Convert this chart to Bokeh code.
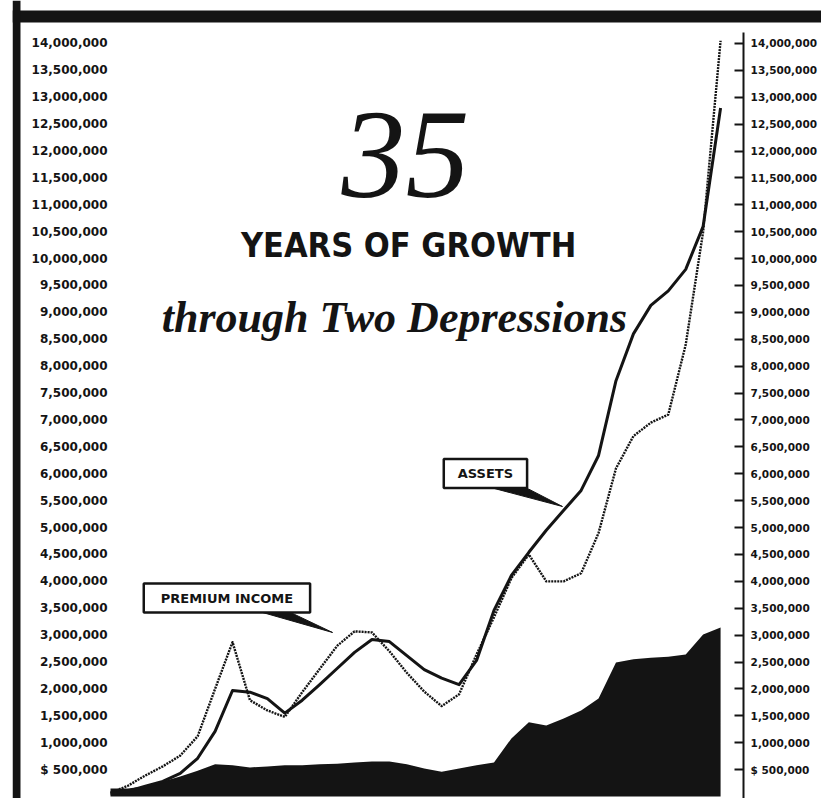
from bokeh.plotting import figure
from bokeh.models import LinearAxis, FixedTicker, Span, Label, Range1d
from bokeh.embed import file_html
from bokeh.resources import INLINE

# ---------------- data ----------------
YEARS = list(range(1906, 1942))

ASSETS = [0.05, 0.10, 0.19, 0.28, 0.43, 0.71, 1.21, 1.97, 1.94, 1.82, 1.55, 1.79,
          2.08, 2.38, 2.68, 2.92, 2.88, 2.62, 2.36, 2.20, 2.08, 2.53, 3.46, 4.11,
          4.54, 4.95, 5.32, 5.69, 6.34, 7.73, 8.60, 9.13, 9.40, 9.80, 10.60, 12.80]

PREMIUM_INCOME = [0.07, 0.20, 0.39, 0.56, 0.76, 1.12, 2.00, 2.87, 1.79, 1.60, 1.48, 1.94,
                  2.37, 2.80, 3.07, 3.05, 2.70, 2.30, 1.95, 1.68, 1.90, 2.64, 3.33, 4.06,
                  4.50, 4.00, 4.00, 4.15, 4.90, 6.10, 6.70, 6.95, 7.10, 8.40, 10.50, 14.05]

BLACK_AREA = [0.15, 0.15, 0.19, 0.28, 0.37, 0.48, 0.60, 0.58, 0.54, 0.56, 0.58, 0.58,
              0.60, 0.61, 0.63, 0.65, 0.65, 0.60, 0.52, 0.46, 0.52, 0.58, 0.63, 1.08,
              1.38, 1.32, 1.45, 1.60, 1.82, 2.49, 2.55, 2.58, 2.60, 2.64, 3.01, 3.14]

TICK_VALUES = [500000, 1000000, 1500000, 2000000, 2500000, 3000000, 3500000,
               4000000, 4500000, 5000000, 5500000, 6000000, 6500000, 7000000,
               7500000, 8000000, 8500000, 9000000, 9500000, 10000000, 10500000,
               11000000, 11500000, 12000000, 12500000, 13000000, 13500000, 14000000]
TICK_LABELS = ["$ 500,000", "1,000,000", "1,500,000", "2,000,000", "2,500,000",
               "3,000,000", "3,500,000", "4,000,000", "4,500,000", "5,000,000",
               "5,500,000", "6,000,000", "6,500,000", "7,000,000", "7,500,000",
               "8,000,000", "8,500,000", "9,000,000", "9,500,000", "10,000,000",
               "10,500,000", "11,000,000", "11,500,000", "12,000,000", "12,500,000",
               "13,000,000", "13,500,000", "14,000,000"]

MILLION = 1_000_000
assets = [v * MILLION for v in ASSETS]
premium = [v * MILLION for v in PREMIUM_INCOME]
area = [v * MILLION for v in BLACK_AREA]

INK = "#141414"

p = figure(width=821, height=798, output_backend="svg", toolbar_location=None,
           x_range=Range1d(1900.378, 1946.79), y_range=Range1d(-37180, 14798000),
           x_axis_location=None, y_axis_location=None,
           min_border_left=12, min_border_right=0, min_border_top=0, min_border_bottom=0)
p.outline_line_color = None
p.grid.visible = False
p.background_fill_color = "white"
p.border_fill_color = "white"

# black area
p.varea(x=YEARS, y1=0, y2=area, fill_color=INK)

# lines
p.line(YEARS, premium, line_width=2.4, line_color=INK, line_dash="2 1", line_join="round")
p.line(YEARS, assets, line_width=3, line_color=INK, line_join="round")

overrides = {v: l for v, l in zip(TICK_VALUES, TICK_LABELS)}

left = LinearAxis(fixed_location=1906, ticker=FixedTicker(ticks=TICK_VALUES),
                  major_label_overrides=overrides,
                  axis_line_color=None, major_tick_line_color=None,
                  minor_tick_line_color=None, major_tick_in=0, major_tick_out=0,
                  major_label_standoff=3,
                  major_label_text_font="DejaVu Sans",
                  major_label_text_font_style="bold",
                  major_label_text_font_size="12px",
                  major_label_text_color=INK)
p.add_layout(left, "left")

right = LinearAxis(fixed_location=1942.32, ticker=FixedTicker(ticks=TICK_VALUES),
                   major_label_overrides=overrides,
                   bounds=(-37180, 14200000),
                   axis_line_color=INK, axis_line_width=2,
                   major_tick_line_color=INK, major_tick_line_width=2,
                   major_tick_in=9, major_tick_out=0,
                   minor_tick_line_color=None,
                   major_label_standoff=7,
                   major_label_text_font="DejaVu Sans",
                   major_label_text_font_style="bold",
                   major_label_text_font_size="10.5px",
                   major_label_text_color=INK)
p.add_layout(right, "right")

# thick frame borders (top and left)
p.add_layout(Span(location=14501000, dimension="width", line_color=INK, line_width=12))
p.add_layout(Span(location=1900.607, dimension="height", line_color=INK, line_width=8))

# titles
p.add_layout(Label(x=1922.92, y=11917000, text="35", text_align="center",
                   text_baseline="middle", text_font="Liberation Serif",
                   text_font_style="italic", text_font_size="128px", text_color=INK))
p.add_layout(Label(x=1923.10, y=10244000, text="YEARS OF GROWTH", text_align="center",
                   text_baseline="middle",
                   text_font="Noto Sans ExtraCondensed, Noto Sans Condensed, DejaVu Sans Condensed",
                   text_font_style="bold", text_font_size="34px", text_color=INK))
p.add_layout(Label(x=1922.29, y=8896000, text="through Two Depressions", text_align="center",
                   text_baseline="middle", text_font="Liberation Serif",
                   text_font_style="bold italic", text_font_size="44px", text_color=INK))

# boxed series labels
p.add_layout(Label(x=1927.51, y=6005000, text="ASSETS", text_align="center",
                   text_baseline="middle", text_font="DejaVu Sans",
                   text_font_style="bold", text_font_size="13px", text_color=INK,
                   background_fill_color="white", border_line_color=INK,
                   border_line_width=2.5, padding=(14, 7)))
p.add_layout(Label(x=1912.68, y=3690000, text="PREMIUM INCOME", text_align="center",
                   text_baseline="middle", text_font="DejaVu Sans",
                   text_font_style="bold", text_font_size="13px", text_color=INK,
                   background_fill_color="white", border_line_color=INK,
                   border_line_width=2.5, padding=(17, 7)))

# pointers
p.patch([1927.80, 1929.81, 1931.93], [5745000, 5745000, 5391000], fill_color=INK, line_color=INK)
p.patch([1914.72, 1916.33, 1918.74], [3421000, 3421000, 3049000], fill_color=INK, line_color=INK)

open("out.html", "w").write(file_html(p, INLINE))
